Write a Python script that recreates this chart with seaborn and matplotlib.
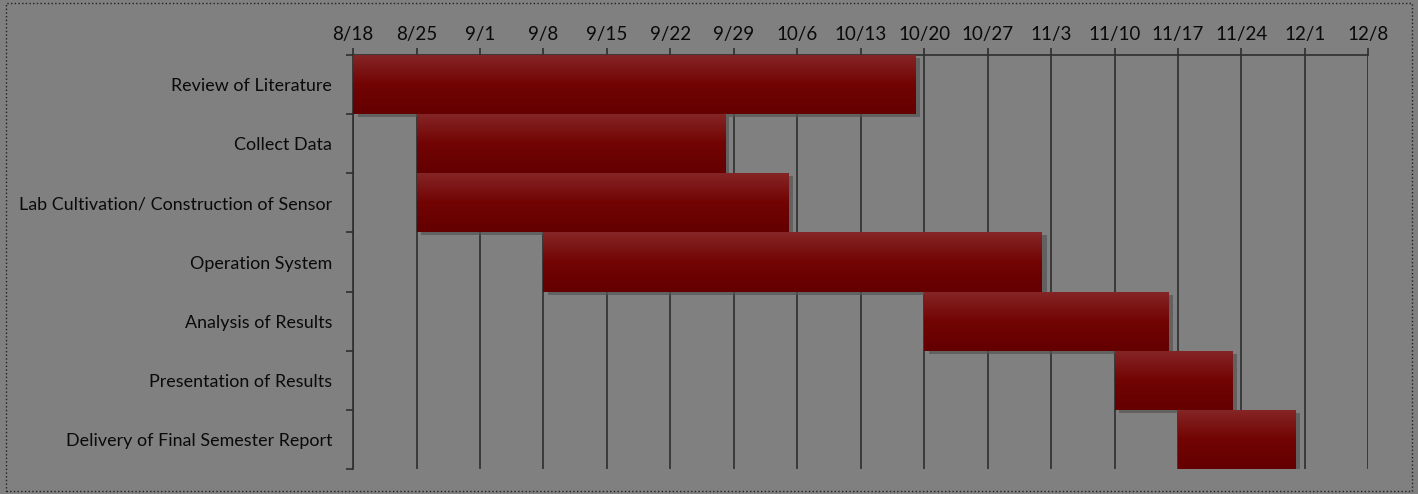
import numpy as np
import pandas as pd
import matplotlib.pyplot as plt
import matplotlib.dates as mdates
from matplotlib.patches import Rectangle
import seaborn as sns

# task data
tasks = ['Review of Literature', 'Collect Data', 'Lab Cultivation/ Construction of Sensor',
         'Operation System', 'Analysis of Results', 'Presentation of Results',
         'Delivery of Final Semester Report']
starts = ['2014-08-18', '2014-08-25', '2014-08-25', '2014-09-08',
          '2014-10-20', '2014-11-10', '2014-11-17']
ends = ['2014-10-19', '2014-09-28', '2014-10-05', '2014-11-02',
        '2014-11-16', '2014-11-23', '2014-11-30']
week_ticks = pd.date_range('2014-08-18', '2014-12-08', freq='7D')
tick_labels = [f'{d.month}/{d.day}' for d in week_ticks]

df = pd.DataFrame({'task': tasks, 'start': pd.to_datetime(starts), 'end': pd.to_datetime(ends)})
df['s'] = mdates.date2num(df['start'])
df['dur'] = mdates.date2num(df['end']) - df['s']

bg = '#808080'
sns.set_theme(style='white', rc={'axes.facecolor': bg, 'figure.facecolor': bg})
plt.rcParams['font.family'] = ['Lato', 'DejaVu Sans']

fig = plt.figure(figsize=(14.18, 4.94), dpi=100)
ax = fig.add_axes([0.249, 0.0506, 0.716, 0.838])

y = np.arange(len(tasks))
bars = ax.barh(y, df['dur'], left=df['s'], height=1.0, color='#6e0505',
               linewidth=0, edgecolor='none', zorder=3)

# vertical gradient + soft shadow on each bar
grad = np.linspace(0, 1, 100).reshape(-1, 1)
cmap = sns.blend_palette(['#862626', '#720404', '#640000'], as_cmap=True)
for b in bars:
    x0, y0, w, h = b.get_x(), b.get_y(), b.get_width(), b.get_height()
    sh = Rectangle((x0 + 0.5, y0 + 0.05), w, h, color='#555555', alpha=0.7, zorder=2, lw=0)
    ax.add_patch(sh)
    im = ax.imshow(grad, cmap=cmap, aspect='auto', extent=(x0, x0 + w, y0 + h, y0),
                   zorder=4, interpolation='bilinear')
    im.set_clip_path(b)

ax.set_xlim(mdates.date2num(week_ticks[0]), mdates.date2num(week_ticks[-1]))
ax.set_ylim(len(tasks) - 0.5, -0.5)
ax.set_xticks(mdates.date2num(week_ticks))
ax.set_xticklabels(tick_labels, fontsize=13.5, color='#0a0a0a')
ax.xaxis.tick_top()
ax.xaxis.set_label_position('top')
ax.grid(axis='x', color='#2e2e2e', lw=1.2, zorder=1)
ax.set_axisbelow(True)

ax.set_yticks(y)
ax.set_yticklabels(tasks, fontsize=12.9, color='#0a0a0a')
ax.set_yticks(np.arange(len(tasks) + 1) - 0.5, minor=True)
ax.tick_params(axis='y', which='major', length=0, pad=15)
ax.tick_params(axis='y', which='minor', length=5, width=1.2, color='#2e2e2e', left=True)
ax.tick_params(axis='x', length=5, width=1.2, color='#2e2e2e', top=True, pad=4)

for side in ['bottom', 'right']:
    ax.spines[side].set_visible(False)
for side in ['top', 'left']:
    ax.spines[side].set_color('#2e2e2e')
    ax.spines[side].set_linewidth(1.2)
ax.set_xlabel('')
ax.set_ylabel('')

# dotted frame around the picture
fig.patches.append(Rectangle((0.004, 0.006), 0.992, 0.988, transform=fig.transFigure,
                             fill=False, ls=':', lw=1, ec='#222222'))

fig.savefig('out.png', dpi=100, facecolor=bg)
